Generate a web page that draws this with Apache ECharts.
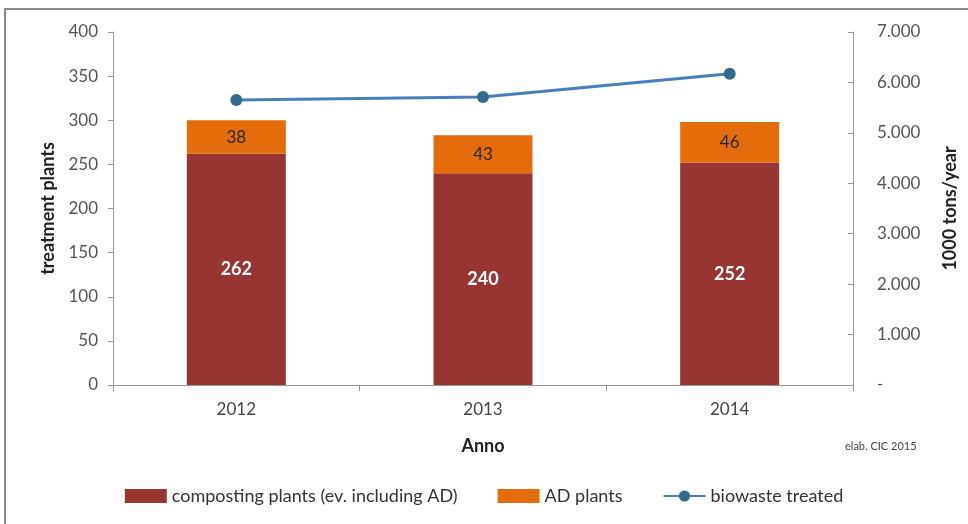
<!DOCTYPE html>
<html>
<head>
<meta charset="utf-8">
<script src="https://cdn.jsdelivr.net/npm/echarts@6/dist/echarts.min.js"></script>
<style>
html,body{margin:0;padding:0;background:#fff;}
#frame{position:absolute;left:4px;top:8px;width:1000px;height:600px;border-left:2px solid #8a8a8a;border-top:2px solid #8a8a8a;box-sizing:border-box;}
#c{position:absolute;left:0;top:0;width:968px;height:524px;}
</style>
</head>
<body>
<div id="frame"></div>
<div id="c"></div>
<script>
const years = ['2012', '2013', '2014'];
const compostingPlants = [262, 240, 252];
const adPlants = [38, 43, 46];
const biowasteTreated = [5650, 5710, 6170];
const leftTicks = { min: 0, max: 400, interval: 50 };
const rightTicks = { min: 0, max: 7000, interval: 1000 };

const FONT = 'Lato, "Open Sans", sans-serif';
const chart = echarts.init(document.getElementById('c'));
chart.setOption({
  animation: false,
  textStyle: { fontFamily: FONT },
  grid: { left: 113, right: 115, top: 32, bottom: 139 },
  legend: {
    bottom: 14,
    left: 'center',
    itemGap: 40,
    itemWidth: 42,
    itemHeight: 14,
    textStyle: { fontSize: 18, color: '#333', fontFamily: FONT },
    data: [
      { name: 'composting plants (ev. including AD)', icon: 'rect' },
      { name: 'AD plants', icon: 'rect' },
      { name: 'biowaste treated' }
    ]
  },
  xAxis: {
    type: 'category',
    data: years,
    name: 'Anno',
    nameLocation: 'middle',
    nameGap: 52,
    nameTextStyle: { fontWeight: 'bold', fontSize: 18, color: '#222' },
    axisLine: { lineStyle: { color: '#999' } },
    axisTick: { show: true, alignWithLabel: false, length: 6, lineStyle: { color: '#999' } },
    axisLabel: { fontSize: 17, color: '#444', margin: 16 }
  },
  yAxis: [
    {
      type: 'value',
      min: leftTicks.min, max: leftTicks.max, interval: leftTicks.interval,
      name: 'treatment plants',
      nameLocation: 'middle',
      nameRotate: 90,
      nameGap: 54,
      nameTextStyle: { fontWeight: 'bold', fontSize: 18, color: '#222' },
      axisLine: { show: true, lineStyle: { color: '#999' } },
      axisTick: { show: true, length: 5, lineStyle: { color: '#999' } },
      splitLine: { show: false },
      axisLabel: { fontSize: 17, color: '#555', margin: 15 }
    },
    {
      type: 'value',
      position: 'right',
      min: rightTicks.min, max: rightTicks.max, interval: rightTicks.interval,
      name: '1000 tons/year',
      nameLocation: 'middle',
      nameRotate: 90,
      nameGap: 88,
      nameTextStyle: { fontWeight: 'bold', fontSize: 18, color: '#222' },
      axisLine: { show: true, lineStyle: { color: '#999' } },
      axisTick: { show: true, inside: true, length: 5, lineStyle: { color: '#999' } },
      splitLine: { show: false },
      axisLabel: {
        fontSize: 17, color: '#555', margin: 24,
        formatter: function (v) {
          if (v === 0) return '-';
          return String(v).replace(/\B(?=(\d{3})+(?!\d))/g, '.');
        }
      }
    }
  ],
  series: [
    {
      name: 'composting plants (ev. including AD)',
      type: 'bar',
      stack: 'p',
      data: compostingPlants,
      barWidth: 99,
      itemStyle: { color: '#973533' },
      label: { show: true, position: 'inside', color: '#fff', fontWeight: 'bold', fontSize: 18 }
    },
    {
      name: 'AD plants',
      type: 'bar',
      stack: 'p',
      data: adPlants,
      barWidth: 99,
      itemStyle: { color: '#E46C0A' },
      label: { show: true, position: 'inside', color: '#2a2a2a', fontSize: 17 }
    },
    {
      name: 'biowaste treated',
      type: 'line',
      yAxisIndex: 1,
      data: biowasteTreated,
      symbol: 'circle',
      symbolSize: 12,
      lineStyle: { color: '#4A7EBB', width: 3 },
      itemStyle: { color: '#336A8C' }
    }
  ],
  graphic: [
    {
      type: 'text',
      left: 845, top: 441,
      style: { text: 'elab. CIC 2015', fontSize: 11, fill: '#444', fontFamily: FONT }
    }
  ]
});
</script>
</body>
</html>
